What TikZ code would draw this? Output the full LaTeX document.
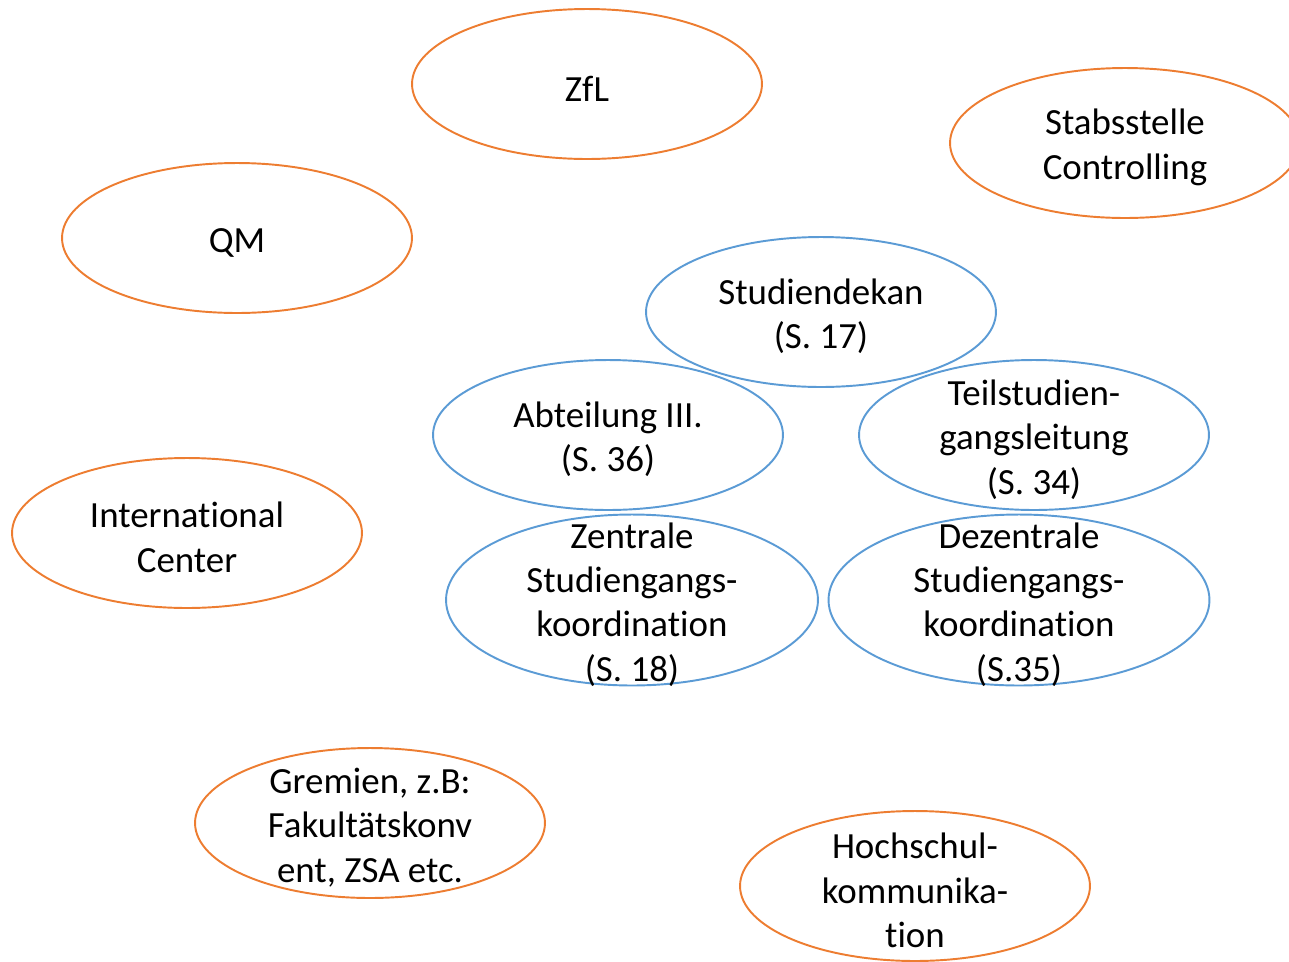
\documentclass[tikz,border=0pt]{standalone}
\usepackage{fontspec}
\setmainfont[Ligatures=NoCommon]{Carlito}
\usetikzlibrary{shapes.geometric}
\definecolor{ovalorange}{RGB}{237,125,49}
\definecolor{ovalblue}{RGB}{91,155,213}
\begin{document}
\begin{tikzpicture}[x=0.02cm,y=-0.02cm]

		\tikzstyle{oval}=[ellipse,draw,line width=1.1pt,
			minimum width=7cm,minimum height=3cm,inner sep=0pt]
		\tikzstyle{outside}=[oval,draw=ovalorange]
		\tikzstyle{inside}=[oval,draw=ovalblue]
		\tikzstyle{txt}=[align=center,inner sep=0pt,yshift=-0.09cm,
			font=\fontsize{21}{25.3}\selectfont]

		\clip (0,0) rectangle (1289,961);

		% orange ovals round the outside
		\node[outside]	(zfl)	at (587,84)	{};
		\node[outside]	(controlling)	at (1125,143)	{};
		\node[outside]	(qm)	at (237,238)	{};
		\node[outside]	(intl)	at (187,533)	{};
		\node[outside]	(gremien)	at (370,823)	{};
		\node[outside]	(hskomm)	at (915,886)	{};

		% blue ovals in the middle
		\node[inside]	(dekan)	at (821,312)	{};
		\node[inside]	(abt)	at (608,435)	{};
		\node[inside]	(tsl)	at (1034,435)	{};
		\node[inside,minimum width=7.44cm,minimum height=3.42cm]	(zsk)	at (632,600)	{};
		\node[inside,minimum width=7.62cm,minimum height=3.42cm]	(dsk)	at (1019,600)	{};

		\node[txt]	(zfl-t)	at (zfl)	{ZfL};
		\node[txt]	(controlling-t)	at (controlling)	{Stabsstelle\\Controlling};
		\node[txt]	(qm-t)	at (qm)	{QM};
		\node[txt]	(intl-t)	at (intl)	{International\\Center};
		\node[txt]	(gremien-t)	at (gremien)	{Gremien, z.B:\\Fakultätskonv\\ent, ZSA etc.};
		\node[txt]	(hskomm-t)	at (hskomm)	{Hochschul-\\kommunika-\\tion};
		\node[txt]	(dekan-t)	at (dekan)	{Studiendekan\\(S. 17)};
		\node[txt]	(abt-t)	at (abt)	{Abteilung III.\\(S. 36)};
		\node[txt]	(tsl-t)	at (tsl)	{Teilstudien-\\gangsleitung\\(S. 34)};
		\node[txt]	(zsk-t)	at (zsk)	{Zentrale\\Studiengangs-\\koordination\\(S. 18)};
		\node[txt]	(dsk-t)	at (dsk)	{Dezentrale\\Studiengangs-\\koordination\\(S.35)};

	\end{tikzpicture}
\end{document}
